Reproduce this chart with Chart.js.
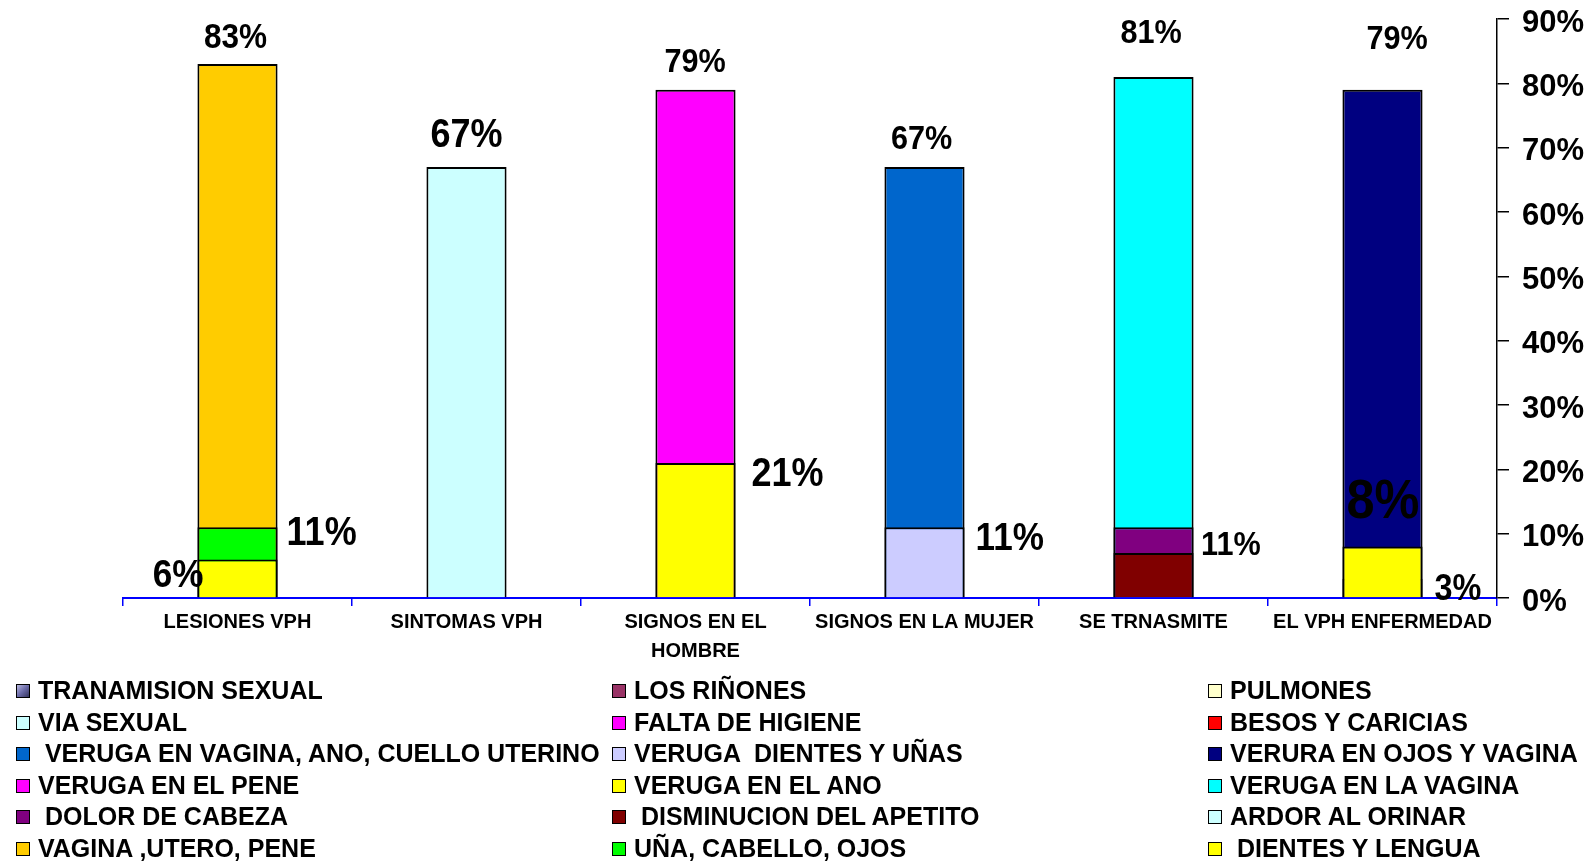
<!DOCTYPE html>
<html>
<head>
<meta charset="utf-8">
<script src="https://cdn.jsdelivr.net/npm/chart.js@4.4.1/dist/chart.umd.min.js"></script>
<style>
  html, body { margin: 0; padding: 0; background: #fff; }
  #wrap { position: relative; width: 1592px; height: 862px; overflow: hidden; background: #fff; }
  #chart { position: absolute; left: 0; top: 0; }
  .lg-item { position: absolute; height: 30px; line-height: 30px; white-space: pre;
    font: bold 25px "Liberation Sans", Arial, sans-serif; color: #000; }
  .lg-sw { position: absolute; left: 0; top: 8px; width: 12px; height: 12px; border: 1.5px solid #000; }
  .lg-tx { position: absolute; top: 0; }
</style>
</head>
<body>
<div id="wrap">
  <canvas id="chart" width="1592" height="862"></canvas>
  <div id="legend"></div>
</div>
<script>
// ---------- DATA ----------
const categories = ['LESIONES VPH', 'SINTOMAS VPH', ['SIGNOS EN EL', 'HOMBRE'], 'SIGNOS EN LA MUJER', 'SE TRNASMITE', 'EL VPH ENFERMEDAD'];

const seriesNames = [
  'TRANAMISION SEXUAL', 'LOS RIÑONES', 'PULMONES',
  'VIA SEXUAL', 'FALTA DE HIGIENE', 'BESOS Y CARICIAS',
  ' VERUGA EN VAGINA, ANO, CUELLO UTERINO', 'VERUGA  DIENTES Y UÑAS', 'VERURA EN OJOS Y VAGINA',
  'VERUGA EN EL PENE', 'VERUGA EN EL ANO', 'VERUGA EN LA VAGINA',
  ' DOLOR DE CABEZA', ' DISMINUCION DEL APETITO', 'ARDOR AL ORINAR',
  'VAGINA ,UTERO, PENE', 'UÑA, CABELLO, OJOS', ' DIENTES Y LENGUA'
];

const tranamisionSexual   = [null, null, null, null, null, 3];
const losRinones          = [null, null, null, null, null, null];
const pulmones            = [null, null, null, null, null, null];
const viaSexual           = [null, null, null, null, null, null];
const faltaHigiene        = [null, null, null, null, null, null];
const besosCaricias       = [null, null, null, null, null, null];
const verugaVaginaAno     = [null, null, null, 67, null, null];
const verugaDientesUnas   = [null, null, null, 11, null, null];
const veruraOjosVagina    = [null, null, null, null, null, 79];
const verugaPene          = [null, null, 79, null, null, null];
const verugaAno           = [null, null, 21, null, null, null];
const verugaLaVagina      = [null, null, null, null, 81, null];
const dolorCabeza         = [null, null, null, null, 11, null];
const disminucionApetito  = [null, null, null, null, 7, null];
const ardorOrinar         = [null, 67, null, null, null, null];
const vaginaUteroPene     = [83, null, null, null, null, null];
const unaCabelloOjos      = [11, null, null, null, null, null];
const dientesLengua       = [6, null, null, null, null, 8];

const yTicks = [0, 10, 20, 30, 40, 50, 60, 70, 80, 90];

// ---------- STYLE ----------
const seriesColors = ['#6B6BA8', '#993366', '#FFFFCC', '#CCFFFF', '#FF00FF', '#FF0000',
  '#0066CC', '#CCCCFF', '#000080', '#FF00FF', '#FFFF00', '#00FFFF',
  '#800080', '#800000', '#CCFFFF', '#FFCC00', '#00FF00', '#FFFF00'];
// draw order (lower drawn on top)
const seriesOrder = [4, 3, 3, 3, 3, 3, 3, 2, 3, 3, 2, 3, 2, 1, 3, 3, 2, 1];

const seriesValues = [tranamisionSexual, losRinones, pulmones, viaSexual, faltaHigiene, besosCaricias,
  verugaVaginaAno, verugaDientesUnas, veruraOjosVagina, verugaPene, verugaAno, verugaLaVagina,
  dolorCabeza, disminucionApetito, ardorOrinar, vaginaUteroPene, unaCabelloOjos, dientesLengua];

// label placement: series index, category index, anchor, dx, dy, font size
const labelLayout = [
  { s: 15, c: 0, a: 'above', dx: -2,  dy: 28.5, size: 35 },
  { s: 16, c: 0, a: 'right', dx: 9,   dy: 3,    size: 40 },
  { s: 17, c: 0, a: 'left',  dx: 6,   dy: 14,   size: 39 },
  { s: 14, c: 1, a: 'above', dx: 0,   dy: 34,   size: 40 },
  { s: 9,  c: 2, a: 'above', dx: -0.5,dy: 30,   size: 34 },
  { s: 10, c: 2, a: 'right', dx: 16,  dy: 9,    size: 40 },
  { s: 6,  c: 3, a: 'above', dx: -3,  dy: 30,   size: 34 },
  { s: 7,  c: 3, a: 'right', dx: 11,  dy: 9,    size: 39 },
  { s: 11, c: 4, a: 'above', dx: -2.5,dy: 46.5, size: 34 },
  { s: 12, c: 4, a: 'right', dx: 7.5, dy: 16,   size: 34 },
  { s: 8,  c: 5, a: 'above', dx: 14.5,dy: 52.5, size: 34 },
  { s: 17, c: 5, a: 'over',  dx: 0.5, dy: -49,  size: 56 },
  { s: 0,  c: 5, a: 'right', dx: 12,  dy: 8,    size: 36 }
];

const FONT = '"Liberation Sans", Arial, sans-serif';
Chart.defaults.font.family = FONT;
Chart.defaults.color = '#000';

const valueLabels = {
  id: 'valueLabels',
  afterDraw(chart) {
    const ctx = chart.ctx;
    const sx = 0.9;
    labelLayout.forEach(l => {
      const value = chart.data.datasets[l.s].data[l.c];
      if (value == null) return;
      const bar = chart.getDatasetMeta(l.s).data[l.c];
      const p = bar.getProps(['x', 'y', 'base', 'width'], true);
      const text = value + '%';
      ctx.save();
      ctx.font = 'bold ' + l.size + 'px ' + FONT;
      ctx.fillStyle = '#000';
      const w = ctx.measureText(text).width * sx;
      let left, cy;
      if (l.a === 'above') { left = p.x + l.dx - w / 2; cy = p.y - l.dy; }
      else if (l.a === 'over') { left = p.x + l.dx - w / 2; cy = p.y + l.dy; }
      else if (l.a === 'right') { left = p.x + p.width / 2 + l.dx; cy = p.y + l.dy; }
      else { left = p.x - p.width / 2 + l.dx - w; cy = p.y + l.dy; }
      ctx.translate(left, cy + 0.358 * l.size);
      ctx.scale(sx, 1);
      ctx.textAlign = 'left';
      ctx.textBaseline = 'alphabetic';
      ctx.fillText(text, 0, 0);
      ctx.restore();
    });
  }
};

const datasets = seriesNames.map((name, i) => ({
  label: name,
  data: seriesValues[i],
  backgroundColor: seriesColors[i],
  borderColor: '#000',
  borderWidth: 2,
  grouped: false,
  order: seriesOrder[i],
  categoryPercentage: 1,
  barPercentage: 0.35
}));

const chart = new Chart(document.getElementById('chart'), {
  type: 'bar',
  data: { labels: categories, datasets },
  options: {
    responsive: false,
    animation: false,
    devicePixelRatio: 1,
    layout: { padding: { left: 123, right: 0, top: 19, bottom: 200 } },
    plugins: { legend: { display: false }, tooltip: { enabled: false } },
    scales: {
      x: {
        afterFit(scale) { scale.height = 64; scale.paddingLeft = 0; scale.paddingRight = 0; },
        grid: { drawOnChartArea: false, drawTicks: true, tickLength: 8, color: '#0000FF', lineWidth: 1.5, offset: true },
        border: { display: true, color: '#0000FF', width: 2 },
        ticks: { autoSkip: false, maxRotation: 0, minRotation: 0, padding: 2, color: '#000',
          font: { size: 20, weight: 'bold', lineHeight: 1.45 } }
      },
      y: {
        position: 'right',
        min: 0, max: 90,
        afterFit(scale) { scale.width = 95; scale.paddingTop = 0; scale.paddingBottom = 0; },
        afterBuildTicks(scale) { scale.ticks = yTicks.map(v => ({ value: v })); },
        grid: { drawOnChartArea: false, drawTicks: true, tickLength: 12, color: '#000', lineWidth: 1.5 },
        border: { display: true, color: '#000', width: 1.5 },
        ticks: { padding: 13, labelOffset: 4, color: '#000', font: { size: 31, weight: 'bold' }, callback: v => v + '%' }
      }
    }
  },
  plugins: [valueLabels]
});

// ---------- HTML LEGEND ----------
const legendEl = document.getElementById('legend');
const colLeft = [16, 612, 1208];
const rowCenter0 = 691, rowStep = 31.5;
chart.data.datasets.forEach((ds, i) => {
  const r = Math.floor(i / 3), c = i % 3;
  const item = document.createElement('div');
  item.className = 'lg-item';
  item.style.left = colLeft[c] + 'px';
  item.style.top = (rowCenter0 + r * rowStep - 15) + 'px';
  const sw = document.createElement('span');
  sw.className = 'lg-sw';
  sw.style.background = i === 0 ? 'linear-gradient(135deg, #B8B8E0 0%, #6B6BA8 50%, #33335C 100%)' : ds.backgroundColor;
  const tx = document.createElement('span');
  tx.className = 'lg-tx';
  tx.style.left = '22px';
  tx.textContent = ds.label;
  item.appendChild(sw);
  item.appendChild(tx);
  legendEl.appendChild(item);
});
</script>
</body>
</html>
